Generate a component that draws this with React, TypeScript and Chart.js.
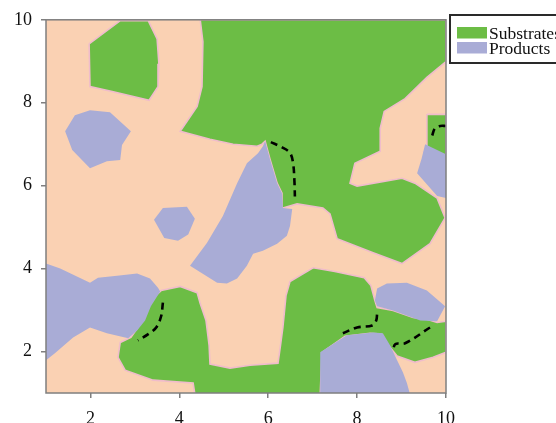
import { useEffect, useRef } from "react";
import { Chart, registerables } from "chart.js";

Chart.register(...registerables);

type Pt = [number, number];

const xTicks = [2, 4, 6, 8, 10];
const yTicks = [2, 4, 6, 8, 10];

// Substrate regions (green)
const substrateNorthWest: Pt[] = [
  [1.97, 9.42], [2.67, 9.98], [3.3, 9.98], [3.5, 9.54], [3.54, 8.94],
  [3.52, 8.39], [3.32, 8.06], [2.49, 8.27], [1.99, 8.39],
];
const substrateNorth: Pt[] = [
  [4.47, 10], [10, 10], [10, 8.99], [9.57, 8.61], [9.08, 8.1], [8.61, 7.79],
  [8.52, 7.38], [8.52, 6.83], [7.95, 6.54], [7.84, 6.06], [8.0, 5.99],
  [9.01, 6.18], [9.3, 6.06], [9.8, 5.7], [9.98, 5.22], [9.64, 4.6],
  [9.01, 4.12], [8.36, 4.38], [7.55, 4.72], [7.39, 5.32], [7.23, 5.46],
  [6.65, 5.56], [6.33, 5.46], [6.31, 5.82], [6.2, 6.06], [6.04, 6.64],
  [5.93, 7.07], [5.86, 7.0], [5.75, 6.95], [5.21, 7.0], [4.69, 7.12],
  [4.02, 7.31], [4.4, 7.91], [4.51, 8.39], [4.53, 9.47],
];
const substrateEast: Pt[] = [
  [9.57, 7.72], [10, 7.72], [10, 6.6], [9.55, 6.8],
];
const substrateSouth: Pt[] = [
  [4.35, 0.97], [4.31, 1.24], [3.41, 1.31], [2.78, 1.55], [2.62, 1.86],
  [2.67, 2.22], [2.91, 2.34], [3.18, 2.75], [3.34, 3.23], [3.59, 3.47],
  [4.02, 3.57], [4.4, 3.42], [4.47, 3.16], [4.6, 2.75], [4.67, 2.15],
  [4.69, 1.7], [5.14, 1.6], [5.59, 1.67], [6.22, 1.72], [6.27, 2.1],
  [6.33, 2.58], [6.4, 3.35], [6.49, 3.69], [7.01, 4.02], [7.5, 3.93],
  [8.16, 3.78], [8.31, 3.59], [8.4, 3.23], [8.45, 3.06], [8.81, 2.99],
  [9.26, 2.82], [9.57, 2.78], [9.8, 2.7], [10, 2.73], [10, 1.98],
  [9.71, 1.86], [9.3, 1.74], [8.9, 1.89], [8.61, 2.27], [8.54, 2.42],
  [8.29, 2.44], [7.73, 2.37], [7.21, 1.98], [7.17, 0.97],
];

// Product regions (lavender)
const productWest: Pt[] = [
  [1.43, 7.31], [1.65, 7.7], [1.99, 7.82], [2.44, 7.77], [2.91, 7.31],
  [2.71, 6.98], [2.67, 6.62], [2.37, 6.59], [1.99, 6.42], [1.59, 6.86],
];
const productCentre: Pt[] = [
  [5.93, 7.07], [6.04, 6.64], [6.2, 6.06], [6.31, 5.82], [6.33, 5.46],
  [6.54, 5.44], [6.49, 5.03], [6.42, 4.79], [6.2, 4.6], [5.88, 4.43],
  [5.66, 4.36], [5.52, 4.07], [5.3, 3.76], [5.07, 3.64], [4.85, 3.66],
  [4.24, 4.07], [4.62, 4.62], [4.98, 5.27], [5.3, 6.06], [5.52, 6.54],
  [5.77, 6.78], [5.88, 6.95],
];
const productSmall: Pt[] = [
  [3.43, 5.18], [3.63, 5.46], [4.17, 5.49], [4.35, 5.2], [4.2, 4.82],
  [3.97, 4.67], [3.66, 4.74],
];
const productSouthWest: Pt[] = [
  [1, 4.12], [1.32, 4.0], [1.99, 3.66], [2.17, 3.78], [2.6, 3.83],
  [3.05, 3.88], [3.34, 3.76], [3.52, 3.54], [3.57, 3.45], [3.36, 3.09],
  [3.23, 2.75], [3.05, 2.51], [2.85, 2.32], [2.37, 2.44], [1.99, 2.58],
  [1.61, 2.34], [1.2, 1.96], [1, 1.79],
];
const productEast: Pt[] = [
  [9.53, 7.0], [10, 6.76], [10, 5.7], [9.8, 5.75], [9.35, 6.3], [9.45, 6.65],
];
const productSouthEast: Pt[] = [
  [8.4, 3.23], [8.45, 3.52], [8.67, 3.64], [9.12, 3.66], [9.57, 3.47],
  [9.98, 3.09], [9.8, 2.73], [9.42, 2.75], [8.81, 2.99], [8.45, 3.09],
];
const productSouth: Pt[] = [
  [7.17, 1.98], [7.46, 2.18], [7.77, 2.39], [8.36, 2.46], [8.58, 2.44],
  [8.74, 2.15], [8.9, 1.79], [9.03, 1.5], [9.12, 1.24], [9.19, 0.97],
  [7.17, 0.97],
];

// Dashed boundary traces
const traceCentre: Pt[] = [
  [6.06, 7.05], [6.3, 6.93], [6.49, 6.79], [6.56, 6.54], [6.59, 6.1], [6.6, 5.74],
];
const traceEast: Pt[] = [[9.69, 7.21], [9.75, 7.38], [9.87, 7.44], [10, 7.44]];
const traceWest: Pt[] = [
  [3.63, 3.18], [3.59, 2.85], [3.48, 2.58], [3.3, 2.42], [3.07, 2.27],
];
const traceSouth: Pt[] = [
  [7.68, 2.44], [8.0, 2.58], [8.34, 2.63], [8.43, 2.75], [8.45, 2.92],
];
const traceSouthEast: Pt[] = [
  [9.64, 2.58], [9.08, 2.2], [8.86, 2.18], [8.81, 2.03],
];

const substrateRegions = [substrateNorthWest, substrateNorth, substrateEast, substrateSouth];
const productRegions = [productWest, productCentre, productSmall, productSouthWest, productEast, productSouthEast, productSouth];
const traces = [traceCentre, traceEast, traceWest, traceSouth, traceSouthEast];

const GREEN = "#6cbd45";
const LAVENDER = "#a9acd6";
const PEACH = "#fad1b3";
const RIM = "#f0bccb";
const FRAME = "#7f7f7f";
const SERIF = '"Liberation Serif", "Times New Roman", serif';

const toXY = (pts: Pt[]) => pts.map(([x, y]) => ({ x, y }));

function regionDataset(label: string, pts: Pt[], color: string, rim: string, order: number) {
  const closed = [...pts, pts[0]];
  return {
    label,
    data: toXY(closed),
    showLine: true,
    fill: "shape",
    backgroundColor: color,
    borderColor: rim,
    borderWidth: rim === "transparent" ? 0 : 1.6,
    pointRadius: 0,
    pointHoverRadius: 0,
    tension: 0,
    order,
  };
}

function traceDataset(pts: Pt[]) {
  return {
    label: "trace",
    data: toXY(pts),
    showLine: true,
    fill: false,
    borderColor: "#000000",
    borderWidth: 2.6,
    borderDash: [7, 5],
    pointRadius: 0,
    pointHoverRadius: 0,
    tension: 0.35,
    order: 1,
  };
}

const plotArea = {
  id: "plotArea",
  beforeDatasetsDraw(chart: any) {
    const { ctx, chartArea: a } = chart;
    ctx.save();
    ctx.fillStyle = PEACH;
    ctx.fillRect(a.left, a.top, a.right - a.left, a.bottom - a.top);
    ctx.restore();
  },
  afterDatasetsDraw(chart: any) {
    const { ctx, chartArea: a } = chart;
    ctx.save();
    ctx.strokeStyle = FRAME;
    ctx.lineWidth = 1.5;
    ctx.strokeRect(a.left, a.top, a.right - a.left, a.bottom - a.top);
    ctx.restore();
  },
};

const boxedLegend = {
  id: "boxedLegend",
  afterDraw(chart: any) {
    const { ctx, chartArea: a } = chart;
    const seen: { label: string; color: string }[] = [];
    for (const ds of chart.data.datasets) {
      if (ds.fill !== "shape") continue;
      if (!seen.find((s) => s.label === ds.label)) seen.push({ label: ds.label, color: ds.backgroundColor });
    }
    const left = a.right + 4;
    const top = 15;
    ctx.save();
    ctx.strokeStyle = "#2a2a2a";
    ctx.lineWidth = 2;
    ctx.strokeRect(left, top, 200, 48);
    ctx.font = `17.5px ${SERIF}`;
    ctx.textBaseline = "alphabetic";
    ctx.textAlign = "left";
    seen.forEach((s, i) => {
      const rowTop = top + 12 + i * 15;
      ctx.fillStyle = s.color;
      ctx.fillRect(left + 7, rowTop, 30, 11.5);
      ctx.fillStyle = "#111111";
      ctx.fillText(s.label, left + 39, rowTop + 11.5);
    });
    ctx.restore();
  },
};

export default function App() {
  const canvasRef = useRef<HTMLCanvasElement | null>(null);

  useEffect(() => {
    if (!canvasRef.current) return;
    const datasets: any[] = [
      ...substrateRegions.map((r) => regionDataset("Substrates", r, GREEN, RIM, 3)),
      ...productRegions.map((r) => regionDataset("Products", r, LAVENDER, "transparent", 2)),
      ...traces.map((t) => traceDataset(t)),
    ];
    const tickFont = { family: SERIF, size: 18 };
    const chart = new Chart(canvasRef.current, {
      type: "scatter",
      data: { datasets },
      plugins: [plotArea, boxedLegend],
      options: {
        animation: false,
        responsive: false,
        events: [],
        layout: { padding: { top: 18, right: 110, left: 0, bottom: 0 } },
        plugins: { legend: { display: false }, tooltip: { enabled: false } },
        scales: {
          x: {
            type: "linear",
            min: 1,
            max: 10,
            afterBuildTicks: (s: any) => {
              s.ticks = xTicks.map((value) => ({ value }));
            },
            afterFit: (s: any) => {
              s.height = 30;
            },
            ticks: { font: tickFont, color: "#111111", padding: 10 },
            grid: { drawOnChartArea: false, drawTicks: true, tickLength: 5, color: FRAME, lineWidth: 1.5 },
            border: { display: false },
          },
          y: {
            type: "linear",
            min: 1,
            max: 10,
            afterBuildTicks: (s: any) => {
              s.ticks = yTicks.map((value) => ({ value }));
            },
            afterFit: (s: any) => {
              s.width = 46;
            },
            ticks: { font: tickFont, color: "#111111", padding: 9 },
            grid: { drawOnChartArea: false, drawTicks: true, tickLength: 5, color: FRAME, lineWidth: 1.5 },
            border: { display: false },
          },
        },
      } as any,
    });
    return () => chart.destroy();
  }, []);

  return (
    <div style={{ position: "fixed", left: 0, top: 0, width: 556, height: 423, overflow: "hidden", background: "#ffffff" }}>
      <canvas ref={canvasRef} width={556} height={423} style={{ display: "block" }} />
    </div>
  );
}
